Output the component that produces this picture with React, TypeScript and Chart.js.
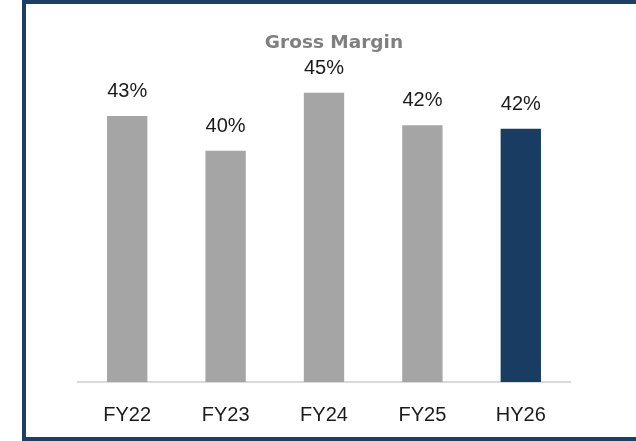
import React, { useEffect, useRef } from "react";
import { Chart, registerables } from "chart.js";

Chart.register(...registerables);

const categories = ["FY22", "FY23", "FY24", "FY25", "HY26"];
const grossMargin = [43.0, 40.0, 45.0, 42.2, 41.9];
const valueLabels = ["43%", "40%", "45%", "42%", "42%"];
const barColors = ["#a5a5a5", "#a5a5a5", "#a5a5a5", "#a5a5a5", "#193c62"];
const chartTitle = "Gross Margin";

const FRAME_LEFT = 22;
const FRAME_WIDTH = 624;

const labelPlugin = {
  id: "valueLabels",
  afterDatasetsDraw(chart: any) {
    const ctx = chart.ctx;
    const meta = chart.getDatasetMeta(0);
    ctx.save();
    ctx.font = "20px 'Liberation Sans', Arial, sans-serif";
    ctx.fillStyle = "#1a1a1a";
    ctx.textAlign = "center";
    ctx.textBaseline = "alphabetic";
    meta.data.forEach((bar: any, i: number) => {
      ctx.fillText(valueLabels[i], bar.x, bar.y - 19);
    });
    ctx.restore();
  },
};

const titlePlugin = {
  id: "customTitle",
  afterDraw(chart: any) {
    const ctx = chart.ctx;
    ctx.save();
    ctx.font = "bold 18.5px 'DejaVu Sans', sans-serif";
    try {
      (ctx as any).letterSpacing = "0px";
    } catch (e) {}
    ctx.fillStyle = "#7f7f7f";
    ctx.textAlign = "center";
    ctx.textBaseline = "alphabetic";
    ctx.fillText(chartTitle, FRAME_LEFT + FRAME_WIDTH / 2, 48);
    ctx.restore();
  },
};

export default function App() {
  const canvasRef = useRef<HTMLCanvasElement | null>(null);

  useEffect(() => {
    if (!canvasRef.current) return;
    const chart = new Chart(canvasRef.current, {
      type: "bar",
      data: {
        labels: categories,
        datasets: [
          {
            data: grossMargin,
            backgroundColor: barColors,
            borderWidth: 0,
            categoryPercentage: 1,
            barPercentage: 0.41,
          },
        ],
      },
      options: {
        animation: false,
        responsive: true,
        maintainAspectRatio: false,
        layout: { padding: { left: 78, right: 66, top: 35, bottom: 14 } },
        plugins: {
          legend: { display: false },
          title: { display: false },
          tooltip: { enabled: false },
        },
        scales: {
          x: {
            grid: { display: false, drawTicks: false },
            border: { display: true, color: "#d9d9d9", width: 2 },
            ticks: {
              color: "#1a1a1a",
              padding: 21,
              font: { size: 20, family: "'Liberation Sans', Arial, sans-serif" },
            },
            afterFit(scale: any) {
              scale.height = 45;
            },
          },
          y: {
            display: false,
            min: 20,
            max: 50,
          },
        },
      },
      plugins: [labelPlugin, titlePlugin],
    });
    return () => chart.destroy();
  }, []);

  return (
    <div
      style={{
        position: "fixed",
        left: 0,
        top: 0,
        width: 636,
        height: 441,
        background: "#ffffff",
        overflow: "hidden",
      }}
    >
      <canvas ref={canvasRef} style={{ width: "636px", height: "441px" }} />
      <div
        style={{
          position: "absolute",
          left: FRAME_LEFT,
          top: 0,
          width: FRAME_WIDTH + 40,
          height: 441,
          border: "4px solid #1c3f67",
          boxSizing: "border-box",
          pointerEvents: "none",
        }}
      />
    </div>
  );
}
